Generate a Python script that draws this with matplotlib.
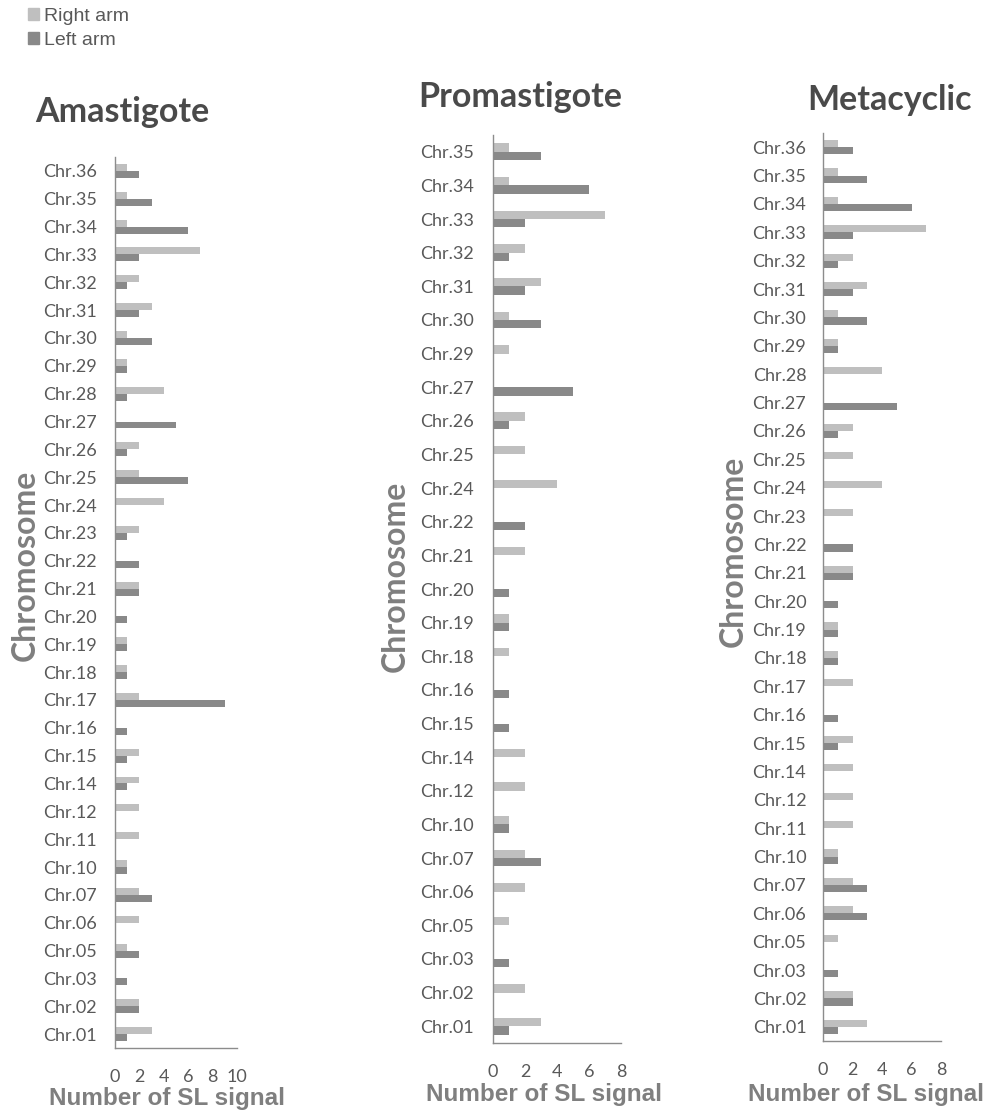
import numpy as np
import matplotlib
matplotlib.use("Agg")
import matplotlib.pyplot as plt
from matplotlib.patches import Patch

# chromosome labels, listed bottom to top
ama_chr = ["Chr.01", "Chr.02", "Chr.03", "Chr.05", "Chr.06", "Chr.07", "Chr.10", "Chr.11",
           "Chr.12", "Chr.14", "Chr.15", "Chr.16", "Chr.17", "Chr.18", "Chr.19", "Chr.20",
           "Chr.21", "Chr.22", "Chr.23", "Chr.24", "Chr.25", "Chr.26", "Chr.27", "Chr.28",
           "Chr.29", "Chr.30", "Chr.31", "Chr.32", "Chr.33", "Chr.34", "Chr.35", "Chr.36"]
ama_right = [3, 2, 0, 1, 2, 2, 1, 2, 2, 2, 2, 0, 2, 1, 1, 0,
             2, 0, 2, 4, 2, 2, 0, 4, 1, 1, 3, 2, 7, 1, 1, 1]
ama_left = [1, 2, 1, 2, 0, 3, 1, 0, 0, 1, 1, 1, 9, 1, 1, 1,
            2, 2, 1, 0, 6, 1, 5, 1, 1, 3, 2, 1, 2, 6, 3, 2]

pro_chr = ["Chr.01", "Chr.02", "Chr.03", "Chr.05", "Chr.06", "Chr.07", "Chr.10", "Chr.12",
           "Chr.14", "Chr.15", "Chr.16", "Chr.18", "Chr.19", "Chr.20", "Chr.21", "Chr.22",
           "Chr.24", "Chr.25", "Chr.26", "Chr.27", "Chr.29", "Chr.30", "Chr.31", "Chr.32",
           "Chr.33", "Chr.34", "Chr.35"]
pro_right = [3, 2, 0, 1, 2, 2, 1, 2, 2, 0, 0, 1, 1, 0, 2, 0,
             4, 2, 2, 0, 1, 1, 3, 2, 7, 1, 1]
pro_left = [1, 0, 1, 0, 0, 3, 1, 0, 0, 1, 1, 0, 1, 1, 0, 2,
            0, 0, 1, 5, 0, 3, 2, 1, 2, 6, 3]

met_chr = ["Chr.01", "Chr.02", "Chr.03", "Chr.05", "Chr.06", "Chr.07", "Chr.10", "Chr.11",
           "Chr.12", "Chr.14", "Chr.15", "Chr.16", "Chr.17", "Chr.18", "Chr.19", "Chr.20",
           "Chr.21", "Chr.22", "Chr.23", "Chr.24", "Chr.25", "Chr.26", "Chr.27", "Chr.28",
           "Chr.29", "Chr.30", "Chr.31", "Chr.32", "Chr.33", "Chr.34", "Chr.35", "Chr.36"]
met_right = [3, 2, 0, 1, 2, 2, 1, 2, 2, 2, 2, 0, 2, 1, 1, 0,
             2, 0, 2, 4, 2, 2, 0, 4, 1, 1, 3, 2, 7, 1, 1, 1]
met_left = [1, 2, 1, 0, 3, 3, 1, 0, 0, 0, 1, 1, 0, 1, 1, 1,
            2, 2, 0, 0, 0, 1, 5, 0, 1, 3, 2, 1, 2, 6, 3, 2]

RIGHT_C = "#bfbfbf"
LEFT_C = "#898989"
TXT = "#595959"
LBL = "#7f7f7f"

W, H = 990, 1113
fig = plt.figure(figsize=(W / 100, H / 100), dpi=100)


def px_axes(x0, x1, ytop, ybot):
    return fig.add_axes([x0 / W, 1 - ybot / H, (x1 - x0) / W, (ybot - ytop) / H])


def panel(ax, labels, right, left, xmax, xticks, ypad):
    y = np.arange(len(labels))
    h = 0.25
    ax.barh(y + h / 2, right, height=h, color=RIGHT_C)
    ax.barh(y - h / 2, left, height=h, color=LEFT_C)
    ax.set_yticks(y)
    ax.set_yticklabels(labels)
    ax.set_ylim(-0.5, len(labels) - 0.5)
    ax.set_xlim(0, xmax)
    ax.set_xticks(xticks)
    for s in ["top", "right"]:
        ax.spines[s].set_visible(False)
    for s in ["left", "bottom"]:
        ax.spines[s].set_color("#8c8c8c")
        ax.spines[s].set_linewidth(1.0)
    ax.tick_params(axis="y", length=0, pad=ypad, labelsize=13, labelcolor=TXT)
    ax.tick_params(axis="x", length=0, pad=15, labelsize=13, labelcolor=TXT)
    for t in ax.get_xticklabels() + ax.get_yticklabels():
        t.set_fontfamily("Lato")


ax1 = px_axes(115, 237, 157, 1048)
panel(ax1, ama_chr, ama_right, ama_left, 10, [0, 2, 4, 6, 8, 10], 13)
ax2 = px_axes(493, 621, 135, 1043)
panel(ax2, pro_chr, pro_right, pro_left, 8, [0, 2, 4, 6, 8], 14)
ax3 = px_axes(823, 941, 133, 1041)
panel(ax3, met_chr, met_right, met_left, 8, [0, 2, 4, 6, 8], 12)

# panel titles
for x, y, s in [(122, 112, "Amastigote"), (520, 97, "Promastigote"), (890, 100, "Metacyclic")]:
    fig.text(x / W, 1 - y / H, s, ha="center", va="center", fontsize=24.5,
             fontweight="bold", family="Lato", color="#4a4a4a")

# axis titles
for x, y in [(25, 565), (395, 576), (733, 551)]:
    fig.text(x / W, 1 - y / H, "Chromosome", ha="center", va="center", rotation=90,
             fontsize=23, fontweight="bold", family="Lato", color=LBL)
for x, y in [(167, 1098), (544, 1095), (866, 1095)]:
    fig.text(x / W, 1 - y / H, "Number of SL signal", ha="center", va="center",
             fontsize=17.5, fontweight="bold", family="Liberation Sans", color=LBL)

handles = [Patch(color=RIGHT_C, label="Right arm"), Patch(color=LEFT_C, label="Left arm")]
fig.legend(handles=handles, loc="upper left", bbox_to_anchor=(28 / W, 1 - 8 / H), frameon=False,
           prop={"family": "Liberation Sans", "size": 14}, labelcolor=TXT,
           handlelength=0.55, handleheight=0.55, handletextpad=0.25, labelspacing=0.35,
           borderaxespad=0.0, borderpad=0.0)

fig.savefig("out.png", dpi=100)
